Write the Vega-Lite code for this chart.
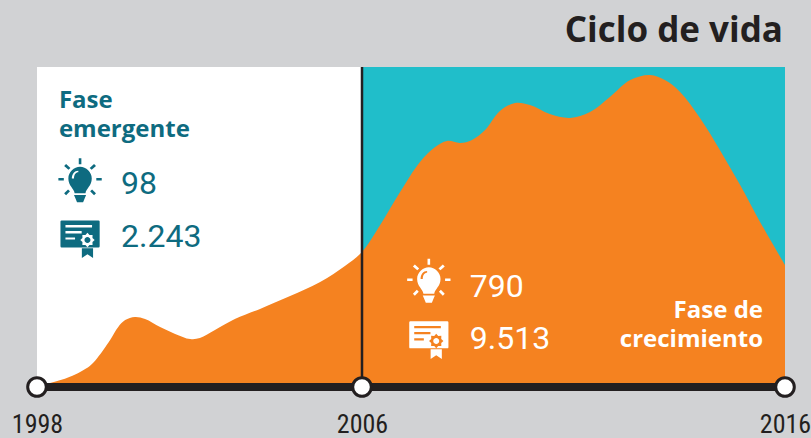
{
"$schema":"https://vega.github.io/schema/vega-lite/v6.json",
"width":748,"height":320,
"autosize":{"type":"none"},
"padding":{"left":37,"top":67,"right":26,"bottom":51},
"background":"#D1D2D4",
"config":{"view":{"stroke":null}},
"title":{"text":"Ciclo de vida","anchor":"end","frame":"group","align":"right","font":"Open Sans","fontWeight":700,"fontSize":35,"color":"#231F20","baseline":"alphabetic","offset":-11,"dx":-2},
"datasets":{
"curve":[{"year":1998,"value":0.5},{"year":1998.32,"value":1.25},{"year":1998.81,"value":3.2},{"year":1999.3,"value":6.6},{"year":1999.48,"value":9},{"year":1999.8,"value":14.7},{"year":2000,"value":18.75},{"year":2000.17,"value":20.9},{"year":2000.41,"value":21.9},{"year":2000.66,"value":21.25},{"year":2001.03,"value":18.75},{"year":2001.4,"value":16.6},{"year":2001.77,"value":15},{"year":2002.01,"value":15.3},{"year":2002.38,"value":17.8},{"year":2002.87,"value":21.25},{"year":2003.49,"value":24.4},{"year":2004.23,"value":28.4},{"year":2004.97,"value":32.8},{"year":2005.58,"value":37.8},{"year":2006,"value":42.2},{"year":2006.43,"value":50.6},{"year":2006.9,"value":60.9},{"year":2007.37,"value":70.3},{"year":2007.73,"value":75},{"year":2008.01,"value":76.9},{"year":2008.32,"value":76.25},{"year":2008.6,"value":77.2},{"year":2008.91,"value":80.3},{"year":2009.26,"value":86.25},{"year":2009.62,"value":88.75},{"year":2009.97,"value":88.1},{"year":2010.44,"value":85.3},{"year":2010.92,"value":84.1},{"year":2011.39,"value":85.9},{"year":2011.86,"value":90.6},{"year":2012.34,"value":95.9},{"year":2012.81,"value":97.5},{"year":2013.16,"value":95.9},{"year":2013.52,"value":92.2},{"year":2013.99,"value":84.1},{"year":2014.46,"value":74.1},{"year":2014.94,"value":63.1},{"year":2015.41,"value":51.6},{"year":2016,"value":38.1}],
"phases":[{"phase":"emergente","start":1998,"end":2006,"low":0,"high":100},{"phase":"crecimiento","start":2006,"end":2016,"low":0,"high":100}],
"milestones":[{"year":1998,"base":0,"top":0},{"year":2006,"base":0,"top":100},{"year":2016,"base":0,"top":0}],
"bulbs":[{"phase":"emergente","year":1999.06,"value":64.5},{"phase":"crecimiento","year":2007.58,"value":33.1}],
"certs":[{"phase":"emergente","year":1999.06,"value":46.25},{"phase":"crecimiento","year":2007.58,"value":14.7}],
"numbers":[{"phase":"emergente","year":2000.07,"value":60.4,"label":"98"},{"phase":"emergente","year":2000.07,"value":43.8,"label":"2.243"},{"phase":"crecimiento","year":2008.55,"value":28.2,"label":"790"},{"phase":"crecimiento","year":2008.55,"value":11.8,"label":"9.513"}]
},
"encoding":{
"x":{"field":"year","type":"quantitative","scale":{"domain":[1998,2006,2016],"range":[0,325,748],"nice":false,"zero":false},
"axis":{"values":[1998,2006,2016],"format":"d","title":null,"domain":false,"ticks":false,"grid":false,"labelFont":"Liberation Sans Narrow, Arial Narrow, Roboto Condensed, DejaVu Sans Condensed, Liberation Sans","labelFontSize":26,"labelColor":"#231F20","labelBaseline":"alphabetic","labelPadding":45,"labelOverlap":false,"labelFlush":false,"labelBound":false}}
},
"layer":[
{"data":{"name":"phases"},"mark":{"type":"rect"},"encoding":{"x":{"field":"start","type":"quantitative"},"x2":{"field":"end"},"y":{"field":"low","type":"quantitative","scale":{"domain":[0,100],"nice":false},"axis":null},"y2":{"field":"high"},"color":{"field":"phase","type":"nominal","scale":{"domain":["emergente","crecimiento"],"range":["#FFFFFF","#20BECA"]},"legend":null}}},
{"data":{"name":"curve"},"mark":{"type":"area","color":"#F58220","interpolate":"catmull-rom"},"encoding":{"y":{"field":"value","type":"quantitative","axis":null}}},
{"data":{"name":"milestones"},"transform":[{"filter":"datum.top>0"}],"mark":{"type":"rule","color":"#231F20","strokeWidth":2.5},"encoding":{"y":{"field":"base","type":"quantitative","axis":null},"y2":{"field":"top"}}},
{"data":{"name":"phases"},"mark":{"type":"rule","color":"#231F20","strokeWidth":8},"encoding":{"x":{"field":"start","type":"quantitative"},"x2":{"field":"end"},"y":{"field":"low","type":"quantitative","axis":null}}},
{"data":{"name":"milestones"},"mark":{"type":"point","shape":"circle","filled":true,"fill":"#FFFFFF","stroke":"#231F20","strokeWidth":3,"opacity":1,"size":346},"encoding":{"y":{"field":"base","type":"quantitative","axis":null}}},
{"data":{"name":"bulbs"},"mark":{"type":"point","filled":true,"opacity":1,"size":1878,"shape":"M-0.06 -1.03L0.06 -1.03L0.06 -0.75L-0.06 -0.75ZM-1 -0.12L-0.75 -0.12L-0.75 0L-1 0ZM0.75 -0.12L1 -0.12L1 0L0.75 0ZM-0.645 -0.765L-0.445 -0.585L-0.535 -0.495L-0.735 -0.675ZM0.735 -0.675L0.535 -0.495L0.445 -0.585L0.645 -0.765ZM-0.735 0.585L-0.555 0.405L-0.465 0.495L-0.645 0.675ZM0.645 0.675L0.465 0.495L0.555 0.405L0.735 0.585ZM-0.25 0.58C-0.28 0.35 -0.54 0.25 -0.54 -0.1C-0.54 -0.4 -0.28 -0.64 0 -0.64C0.28 -0.64 0.54 -0.4 0.54 -0.1C0.54 0.25 0.28 0.35 0.25 0.58ZM-0.08 -0.46C-0.26 -0.46 -0.38 -0.3 -0.38 -0.1L-0.28 -0.1C-0.28 -0.26 -0.2 -0.38 -0.08 -0.38ZM-0.28 0.66L0.28 0.66L0.22 0.8L0.14 1L-0.14 1L-0.22 0.8Z"},"encoding":{"y":{"field":"value","type":"quantitative","axis":null},"fill":{"field":"phase","type":"nominal","scale":{"domain":["emergente","crecimiento"],"range":["#0E6B80","#FFFFFF"]},"legend":null}}},
{"data":{"name":"certs"},"mark":{"type":"point","filled":true,"opacity":1,"size":1600,"shape":"M-0.92 -0.93L0.92 -0.93Q0.98 -0.93 0.98 -0.87L0.98 0.36Q0.98 0.42 0.92 0.42L-0.92 0.42Q-0.98 0.42 -0.98 0.36L-0.98 -0.87Q-0.98 -0.93 -0.92 -0.93ZM-0.73 -0.7L-0.73 -0.58L0.6 -0.58L0.6 -0.7ZM-0.73 -0.4L-0.73 -0.28L0.08 -0.28L0.08 -0.4ZM-0.73 -0.08L-0.73 0.03L-0.25 0.03L-0.25 -0.08ZM0.73 0.05L0.62 -0.05L0.625 -0.205L0.47 -0.2L0.37 -0.31L0.27 -0.2L0.115 -0.205L0.12 -0.05L0.01 0.05L0.12 0.15L0.115 0.305L0.27 0.3L0.37 0.41L0.47 0.3L0.625 0.305L0.62 0.15ZM0.22 0.05C0.22 -0.03 0.29 -0.1 0.37 -0.1C0.45 -0.1 0.52 -0.03 0.52 0.05C0.52 0.13 0.45 0.2 0.37 0.2C0.29 0.2 0.22 0.13 0.22 0.05ZM0.09 0.46L0.65 0.46L0.65 0.95L0.37 0.76L0.09 0.95Z"},"encoding":{"y":{"field":"value","type":"quantitative","axis":null},"fill":{"field":"phase","type":"nominal","scale":{"domain":["emergente","crecimiento"],"range":["#0E6B80","#FFFFFF"]},"legend":null}}},
{"data":{"name":"numbers"},"mark":{"type":"text","align":"left","baseline":"alphabetic","font":"Roboto","fontWeight":400,"fontSize":32},"encoding":{"y":{"field":"value","type":"quantitative","axis":null},"text":{"field":"label"},"color":{"field":"phase","type":"nominal","scale":{"domain":["emergente","crecimiento"],"range":["#0E6B80","#FFFFFF"]},"legend":null}}},
{"data":{"values":[{"year":1998.54,"value":87.2,"label":"Fase\nemergente"}]},"mark":{"type":"text","align":"left","baseline":"alphabetic","font":"Open Sans","fontWeight":700,"fontSize":24,"lineHeight":29,"lineBreak":"\n","color":"#0E6B80"},"encoding":{"y":{"field":"value","type":"quantitative","axis":null},"text":{"field":"label"}}},
{"data":{"values":[{"year":2015.48,"value":21.6,"label":"Fase de\ncrecimiento"}]},"mark":{"type":"text","align":"right","baseline":"alphabetic","font":"Open Sans","fontWeight":700,"fontSize":24,"lineHeight":29,"lineBreak":"\n","color":"#FFFFFF"},"encoding":{"y":{"field":"value","type":"quantitative","axis":null},"text":{"field":"label"}}}
],
"resolve":{"scale":{"color":"independent","fill":"independent"}}
}
